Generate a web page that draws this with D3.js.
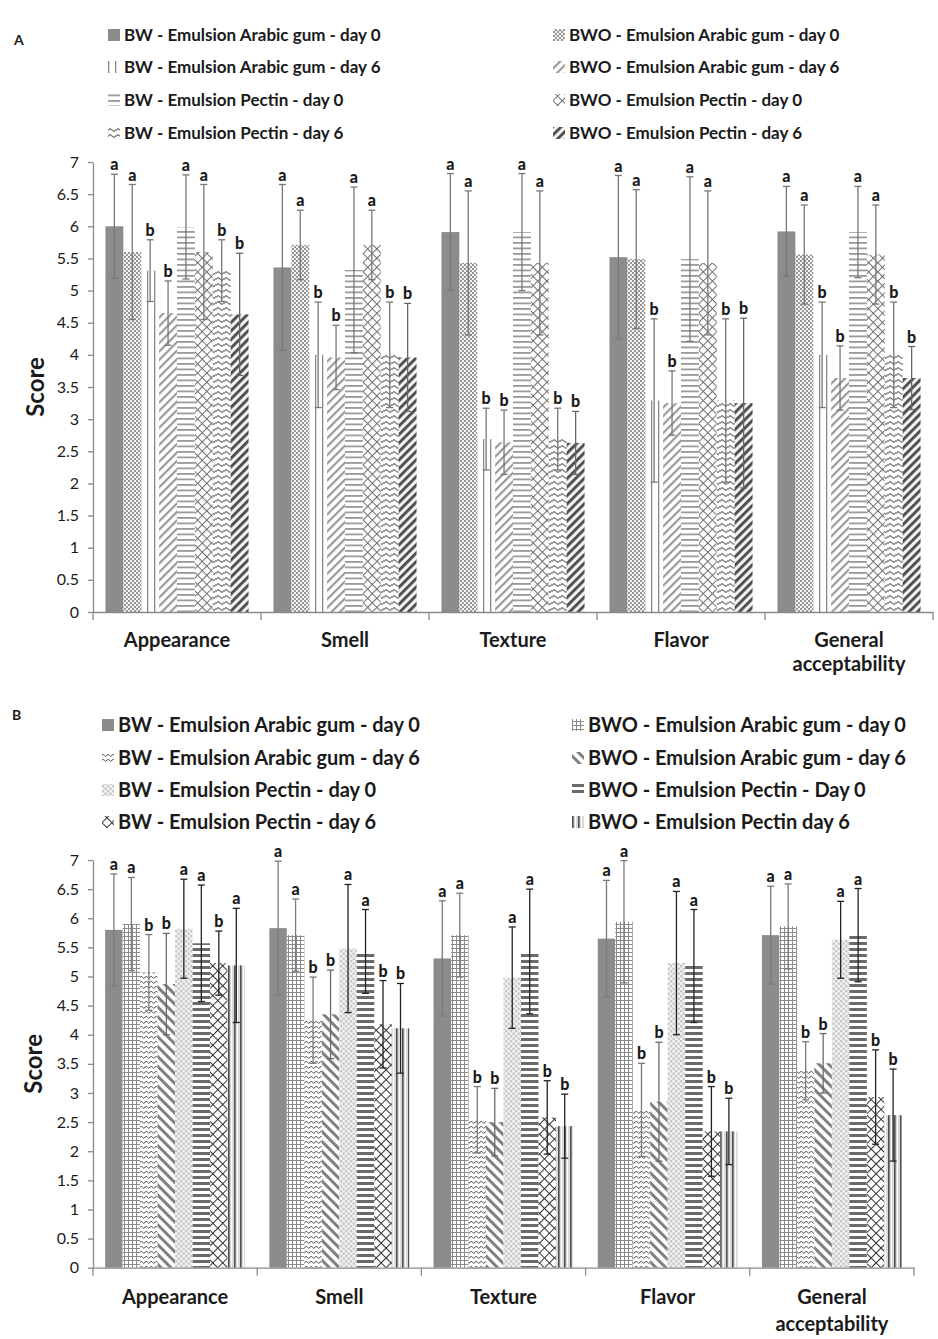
<!DOCTYPE html>
<html><head><meta charset="utf-8">
<script src="https://cdn.jsdelivr.net/npm/d3@7"></script>
<style>
body{margin:0;background:#fff}
svg{display:block}
text{font-family:Lato,"Open Sans",sans-serif;fill:#1a1a1a}
</style>
</head><body>
<svg id="chart" width="938" height="1339"></svg>
<script>
// ---------------- DATA ----------------
const categories = ["Appearance", "Smell", "Texture", "Flavor", "General acceptability"];
const yTicks = [0, 0.5, 1, 1.5, 2, 2.5, 3, 3.5, 4, 4.5, 5, 5.5, 6, 6.5, 7];
const yTickLabels = ["0", "0.5", "1", "1.5", "2", "2.5", "3", "3.5", "4", "4.5", "5", "5.5", "6", "6.5", "7"];

// Panel A
const seriesA = [
  "BW - Emulsion Arabic gum - day 0",
  "BWO - Emulsion Arabic gum - day 0",
  "BW - Emulsion Arabic gum - day 6",
  "BWO - Emulsion Arabic gum - day 6",
  "BW - Emulsion Pectin - day 0",
  "BWO - Emulsion Pectin - day 0",
  "BW - Emulsion Pectin - day 6",
  "BWO - Emulsion Pectin - day 6"
];
const valuesA = [
  [6.00, 5.36, 5.91, 5.52, 5.92],
  [5.60, 5.71, 5.43, 5.49, 5.56],
  [5.31, 4.00, 2.69, 3.29, 4.00],
  [4.65, 3.96, 2.64, 3.25, 3.64],
  [5.99, 5.32, 5.91, 5.49, 5.91],
  [5.60, 5.71, 5.43, 5.43, 5.56],
  [5.31, 4.00, 2.69, 3.29, 4.00],
  [4.63, 3.96, 2.63, 3.25, 3.64]
];
const errorsA = [
  [0.81, 1.29, 0.91, 1.27, 0.70],
  [1.05, 0.54, 1.12, 1.08, 0.77],
  [0.48, 0.82, 0.48, 1.27, 0.82],
  [0.50, 0.50, 0.50, 0.50, 0.50],
  [0.81, 1.29, 0.91, 1.28, 0.71],
  [1.05, 0.54, 1.12, 1.12, 0.77],
  [0.48, 0.82, 0.48, 1.27, 0.82],
  [0.95, 0.84, 0.49, 1.32, 0.49]
];
const lettersA = [
  ["a", "a", "a", "a", "a"],
  ["a", "a", "a", "a", "a"],
  ["b", "b", "b", "b", "b"],
  ["b", "b", "b", "b", "b"],
  ["a", "a", "a", "a", "a"],
  ["a", "a", "a", "a", "a"],
  ["b", "b", "b", "b", "b"],
  ["b", "b", "b", "b", "b"]
];

// Panel B
const seriesB = [
  "BW - Emulsion Arabic gum - day 0",
  "BWO - Emulsion Arabic gum - day 0",
  "BW - Emulsion Arabic gum - day 6",
  "BWO - Emulsion Arabic gum - day 6",
  "BW - Emulsion Pectin - day 0",
  "BWO - Emulsion Pectin - Day 0",
  "BW - Emulsion Pectin - day 6",
  "BWO - Emulsion Pectin day 6"
];
const valuesB = [
  [5.80, 5.83, 5.31, 5.65, 5.71],
  [5.90, 5.71, 5.71, 5.94, 5.86],
  [5.07, 4.25, 2.54, 2.71, 3.38],
  [4.87, 4.35, 2.50, 2.85, 3.51],
  [5.82, 5.48, 4.98, 5.23, 5.63],
  [5.57, 5.43, 5.43, 5.18, 5.71],
  [5.23, 4.18, 2.58, 2.34, 2.93],
  [5.19, 4.11, 2.43, 2.34, 2.62]
];
const errorsB = [
  [0.96, 1.15, 0.99, 1.00, 0.84],
  [0.80, 0.62, 0.72, 1.05, 0.73],
  [0.65, 0.74, 0.57, 0.80, 0.50],
  [0.87, 0.76, 0.58, 1.02, 0.51],
  [0.85, 1.10, 0.87, 1.23, 0.66],
  [1.00, 0.72, 1.07, 0.97, 0.80],
  [0.55, 0.75, 0.63, 0.77, 0.81],
  [0.98, 0.77, 0.55, 0.57, 0.79]
];
const lettersB = [
  ["a", "a", "a", "a", "a"],
  ["a", "a", "a", "a", "a"],
  ["b", "b", "b", "b", "b"],
  ["b", "b", "b", "b", "b"],
  ["a", "a", "a", "a", "a"],
  ["a", "a", "a", "a", "a"],
  ["b", "b", "b", "b", "b"],
  ["a", "b", "b", "b", "b"]
];

// ---------------- PATTERNS ----------------
const svg = d3.select("#chart");
const defs = svg.append("defs");

function pat(id, w, h, bg, transform) {
  const p = defs.append("pattern").attr("id", id).attr("patternUnits", "userSpaceOnUse")
    .attr("width", w).attr("height", h);
  if (transform) p.attr("patternTransform", transform);
  p.append("rect").attr("width", w).attr("height", h).attr("fill", bg);
  return p;
}
// Panel A
pat("pA0", 4, 4, "#8c8c8c");
{ const p = pat("pA1", 4, 4, "#f4f4f4");
  p.append("circle").attr("cx", 1).attr("cy", 1).attr("r", 1.1).attr("fill", "#8a8a8a");
  p.append("circle").attr("cx", 3).attr("cy", 3).attr("r", 1.1).attr("fill", "#8a8a8a"); }
{ const p = pat("pA2", 7, 4, "#ffffff");
  p.append("rect").attr("x", 0).attr("width", 1.3).attr("height", 4).attr("fill", "#8a8a8a"); }
{ const p = pat("pA3", 6, 6, "#ffffff", "rotate(45)");
  p.append("rect").attr("x", 0).attr("width", 2.2).attr("height", 6).attr("fill", "#9a9a9a"); }
{ const p = pat("pA4", 4, 5.5, "#ffffff");
  p.append("rect").attr("y", 0).attr("width", 4).attr("height", 1.8).attr("fill", "#9a9a9a"); }
{ const p = pat("pA5", 6.5, 6.5, "#ffffff", "rotate(45)");
  p.append("rect").attr("x", 0).attr("width", 1).attr("height", 6.5).attr("fill", "#6e6e6e");
  p.append("rect").attr("y", 0).attr("width", 6.5).attr("height", 1).attr("fill", "#6e6e6e"); }
{ const p = pat("pA6", 8, 6, "#ffffff");
  p.append("path").attr("d", "M-1,4.5 L2,1.5 L6,4.5 L9,1.5").attr("fill", "none")
    .attr("stroke", "#7a7a7a").attr("stroke-width", 1.1); }
{ const p = pat("pA7", 6, 6, "#f2f2f2", "rotate(45)");
  p.append("rect").attr("x", 0).attr("width", 2.8).attr("height", 6).attr("fill", "#4a4a4a"); }

// Panel B
pat("pB0", 4, 4, "#8c8c8c");
{ const p = pat("pB1", 4, 4, "#ffffff");
  p.append("rect").attr("width", 1).attr("height", 4).attr("fill", "#8a8a8a");
  p.append("rect").attr("width", 4).attr("height", 1).attr("fill", "#8a8a8a"); }
{ const p = pat("pB2", 5, 5, "#ffffff");
  p.append("path").attr("d", "M-1,3.5 L1.25,1 L3.75,3.5 L6,1").attr("fill", "none")
    .attr("stroke", "#444").attr("stroke-width", 0.9); }
{ const p = pat("pB3", 7, 7, "#ffffff", "rotate(-45)");
  p.append("rect").attr("x", 0).attr("width", 3).attr("height", 7).attr("fill", "#808080"); }
{ const p = pat("pB4", 5, 5, "#f1f1f1");
  p.append("circle").attr("cx", 1.2).attr("cy", 1.2).attr("r", 1.3).attr("fill", "#c6c6c6");
  p.append("circle").attr("cx", 3.7).attr("cy", 3.7).attr("r", 1.3).attr("fill", "#c6c6c6"); }
{ const p = pat("pB5", 4, 6, "#ffffff");
  p.append("rect").attr("y", 0).attr("width", 4).attr("height", 3).attr("fill", "#6a6a6a"); }
{ const p = pat("pB6", 7, 7, "#ffffff", "rotate(45)");
  p.append("rect").attr("x", 0).attr("width", 1).attr("height", 7).attr("fill", "#333");
  p.append("rect").attr("y", 0).attr("width", 7).attr("height", 1).attr("fill", "#333"); }
{ const p = pat("pB7", 6, 4, "#d9d9d9");
  p.append("rect").attr("x", 0).attr("width", 1.6).attr("height", 4).attr("fill", "#505050");
  p.append("rect").attr("x", 3).attr("width", 1).attr("height", 4).attr("fill", "#ffffff"); }

// ---------------- DRAW ----------------
function drawPanel(cfg) {
  const g = svg.append("g");
  const x0 = d3.scaleBand().domain(categories).range([cfg.left, cfg.right]);
  const gap = x0.bandwidth() * 0.074;
  const x1 = d3.scaleBand().domain(d3.range(cfg.series.length)).range([gap, x0.bandwidth() - gap]);
  const y = d3.scaleLinear().domain([0, 7]).range([cfg.bottom, cfg.top]);

  // Y axis
  const ya = g.append("g").attr("transform", `translate(${cfg.left},0)`)
    .call(d3.axisLeft(y).tickValues(yTicks).tickSize(5).tickSizeOuter(0).tickPadding(9)
      .tickFormat((d, i) => yTickLabels[i]));
  ya.select(".domain").attr("stroke", "#8a8a8a").attr("stroke-width", 1.3);
  ya.selectAll(".tick line").attr("stroke", "#8a8a8a").attr("stroke-width", 1.3);
  ya.selectAll(".tick text").attr("font-size", cfg.tickFont).attr("font-family", "Lato, sans-serif").attr("fill", "#222");

  // Bars
  const flat = [];
  cfg.series.forEach((s, si) => categories.forEach((c, ci) => flat.push({
    si, ci, c, v: cfg.values[si][ci], e: cfg.errors[si][ci], l: cfg.letters[si][ci]
  })));
  g.selectAll("rect.bar").data(flat).join("rect").attr("class", "bar")
    .attr("x", d => x0(d.c) + x1(d.si)).attr("width", x1.bandwidth())
    .attr("y", d => y(d.v)).attr("height", d => y(0) - y(d.v))
    .attr("fill", d => `url(#${cfg.prefix}${d.si})`);

  // X axis
  const xa = g.append("g").attr("transform", `translate(0,${cfg.bottom})`)
    .call(d3.axisBottom(x0).tickSize(0).tickFormat(""));
  xa.select(".domain").attr("stroke", "#8a8a8a").attr("stroke-width", 1.3);
  const bounds = categories.map(c => x0(c)).concat([cfg.right]);
  g.selectAll("line.bnd").data(bounds).join("line").attr("class", "bnd")
    .attr("x1", d => d).attr("x2", d => d).attr("y1", cfg.bottom).attr("y2", cfg.bottom + 8)
    .attr("stroke", "#8a8a8a").attr("stroke-width", 1.3);

  // Error bars
  const eb = g.selectAll("g.err").data(flat).join("g").attr("class", "err")
    .attr("stroke", d => cfg.errColor[d.si]).attr("stroke-width", 1.3);
  const cx = d => x0(d.c) + x1(d.si) + x1.bandwidth() / 2;
  eb.append("line").attr("x1", cx).attr("x2", cx).attr("y1", d => y(d.v + d.e)).attr("y2", d => y(d.v - d.e));
  eb.append("line").attr("x1", d => cx(d) - 3.5).attr("x2", d => cx(d) + 3.5).attr("y1", d => y(d.v + d.e)).attr("y2", d => y(d.v + d.e));
  eb.append("line").attr("x1", d => cx(d) - 3.5).attr("x2", d => cx(d) + 3.5).attr("y1", d => y(d.v - d.e)).attr("y2", d => y(d.v - d.e));

  // letters
  g.selectAll("text.let").data(flat).join("text").attr("class", "let")
    .attr("x", cx).attr("y", d => y(d.v + d.e) - 4).attr("text-anchor", "middle")
    .attr("font-size", cfg.letFont).attr("font-weight", "900").text(d => d.l);

  // category labels
  const cl = g.selectAll("text.cat").data(categories).join("text").attr("class", "cat")
    .attr("x", c => x0(c) + x0.bandwidth() / 2).attr("y", cfg.catY)
    .attr("text-anchor", "middle").attr("font-size", cfg.catFont).attr("font-weight", "bold");
  cl.each(function(c) {
    const words = c === "General acceptability" ? ["General", "acceptability"] : [c];
    d3.select(this).selectAll("tspan").data(words).join("tspan")
      .attr("x", x0(c) + x0.bandwidth() / 2).attr("dy", (w, i) => i === 0 ? 0 : cfg.catLine).text(w => w);
  });

  // Score
  g.append("text").attr("transform", `translate(${cfg.scoreX},${(cfg.top + cfg.bottom) / 2}) rotate(-90)`)
    .attr("text-anchor", "middle").attr("font-size", cfg.scoreFont).attr("font-weight", "bold").text("Score");

  // panel letter
  g.append("text").attr("x", cfg.panelX).attr("y", cfg.panelY).attr("font-size", 14).attr("font-weight", "bold").text(cfg.panel);

  // Legend
  const lg = g.selectAll("g.leg").data(cfg.series).join("g").attr("class", "leg")
    .attr("transform", (s, i) => `translate(${i % 2 === 0 ? cfg.legX[0] : cfg.legX[1]},${cfg.legY[Math.floor(i / 2)]})`);
  lg.append("rect").attr("x", 0).attr("y", -6).attr("width", cfg.swW).attr("height", 12)
    .attr("fill", (s, i) => `url(#${cfg.prefix}${i})`);
  lg.append("text").attr("x", cfg.swW + 4).attr("y", 0).attr("dy", "0.35em")
    .attr("font-size", cfg.legFont).attr("font-weight", "bold").text(s => s);
}

drawPanel({
  panel: "A", prefix: "pA", series: seriesA, values: valuesA, errors: errorsA, letters: lettersA,
  left: 93, right: 933, top: 162, bottom: 612,
  errColor: ["#777", "#777", "#777", "#777", "#777", "#777", "#777", "#666"],
  tickFont: 16, letFont: 16, catFont: 20, catY: 647, catLine: 24, scoreX: 44, scoreFont: 24,
  panelX: 14, panelY: 45,
  legX: [108, 553], legY: [35, 67, 100, 133], swW: 12, legFont: 17
});
drawPanel({
  panel: "B", prefix: "pB", series: seriesB, values: valuesB, errors: errorsB, letters: lettersB,
  left: 93, right: 914, top: 860, bottom: 1267.7,
  errColor: ["#7a7a7a", "#7a7a7a", "#7a7a7a", "#6a6a6a", "#222", "#222", "#222", "#222"],
  tickFont: 16, letFont: 16, catFont: 20, catY: 1304, catLine: 27, scoreX: 42, scoreFont: 24,
  panelX: 12, panelY: 720,
  legX: [102, 572], legY: [725, 758, 790, 822], swW: 12, legFont: 20
});
</script>
</body></html>
